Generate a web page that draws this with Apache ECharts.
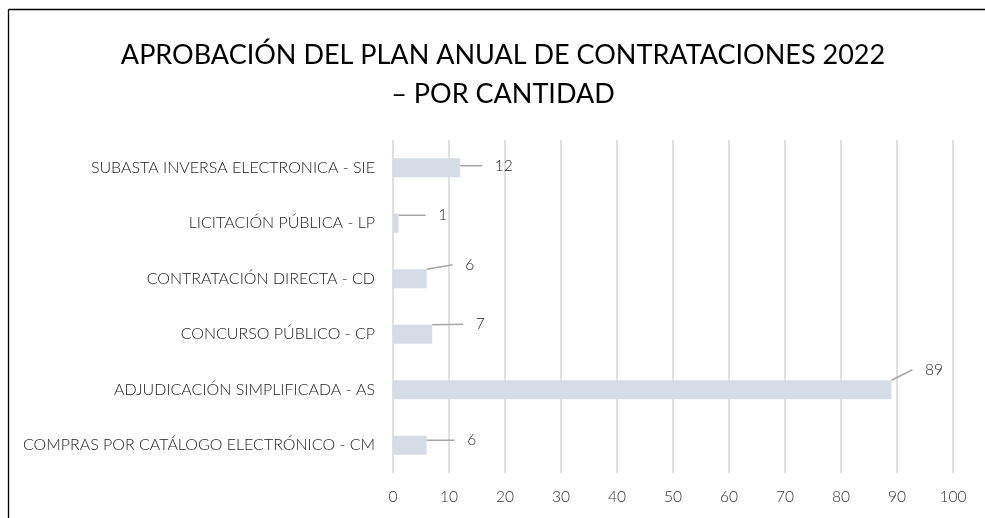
<!DOCTYPE html>
<html>
<head>
<meta charset="utf-8">
<script src="https://cdn.jsdelivr.net/npm/echarts@6/dist/echarts.min.js"></script>
<style>html,body{margin:0;padding:0;background:#fff;}#c{width:985px;height:518px;}</style>
</head>
<body>
<div id="c"></div>
<script>
const categories = [
  "COMPRAS POR CATÁLOGO ELECTRÓNICO - CM",
  "ADJUDICACIÓN SIMPLIFICADA - AS",
  "CONCURSO PÚBLICO - CP",
  "CONTRATACIÓN DIRECTA - CD",
  "LICITACIÓN PÚBLICA - LP",
  "SUBASTA INVERSA ELECTRONICA - SIE"
];
const values = [6, 89, 7, 6, 1, 12];
const xTicks = { min: 0, max: 100, interval: 10 };
const titleText = "APROBACIÓN DEL PLAN ANUAL DE CONTRATACIONES 2022\n– POR CANTIDAD";
// label offsets (styling only)
const labelOffsets = [[28, -5], [21, -20], [31, -10], [26, -14], [27, -8], [22, -2]];

const FONT = "Lato";
const chart = echarts.init(document.getElementById('c'), null, { renderer: 'canvas' });
chart.setOption({
  animation: false,
  backgroundColor: '#fff',
  title: {
    text: titleText,
    left: 498, top: 31, textAlign: 'center',
    textStyle: { fontFamily: FONT, fontSize: 27, fontWeight: 'normal', color: '#000', lineHeight: 39 }
  },
  graphic: [
    { type: 'line', shape: { x1: 8.5, y1: 9.5, x2: 985, y2: 9.5 }, style: { stroke: '#000', lineWidth: 1.3 } },
    { type: 'line', shape: { x1: 8.5, y1: 9.5, x2: 8.5, y2: 518 }, style: { stroke: '#000', lineWidth: 1.3 } }
  ],
  grid: { left: 393, right: 32, top: 140, bottom: 45, containLabel: false },
  xAxis: {
    type: 'value', min: xTicks.min, max: xTicks.max, interval: xTicks.interval,
    axisLine: { show: false }, axisTick: { show: false },
    splitLine: { show: true, lineStyle: { color: '#d9d9d9', width: 1.6 } },
    axisLabel: { fontFamily: FONT, fontSize: 15.5, fontWeight: 300, color: '#303030', margin: 16 }
  },
  yAxis: {
    type: 'category', data: categories,
    axisLine: { show: false }, axisTick: { show: false },
    axisLabel: { fontFamily: FONT, fontSize: 16, fontWeight: 300, color: '#1a1a1a', margin: 18 }
  },
  series: [{
    type: 'bar', data: values, barWidth: 19,
    itemStyle: { color: '#d6dce5' },
    label: { show: true, position: 'right', distance: 0, formatter: '   {c}', fontFamily: FONT, fontSize: 15.5, fontWeight: 300, color: '#1a1a1a' },
    labelLayout: function (p) {
      const o = labelOffsets[p.dataIndex];
      return { dx: o[0], dy: o[1] };
    },
    labelLine: { show: true, lineStyle: { color: '#a6a6a6', width: 1.5 } }
  }]
});
</script>
</body>
</html>
